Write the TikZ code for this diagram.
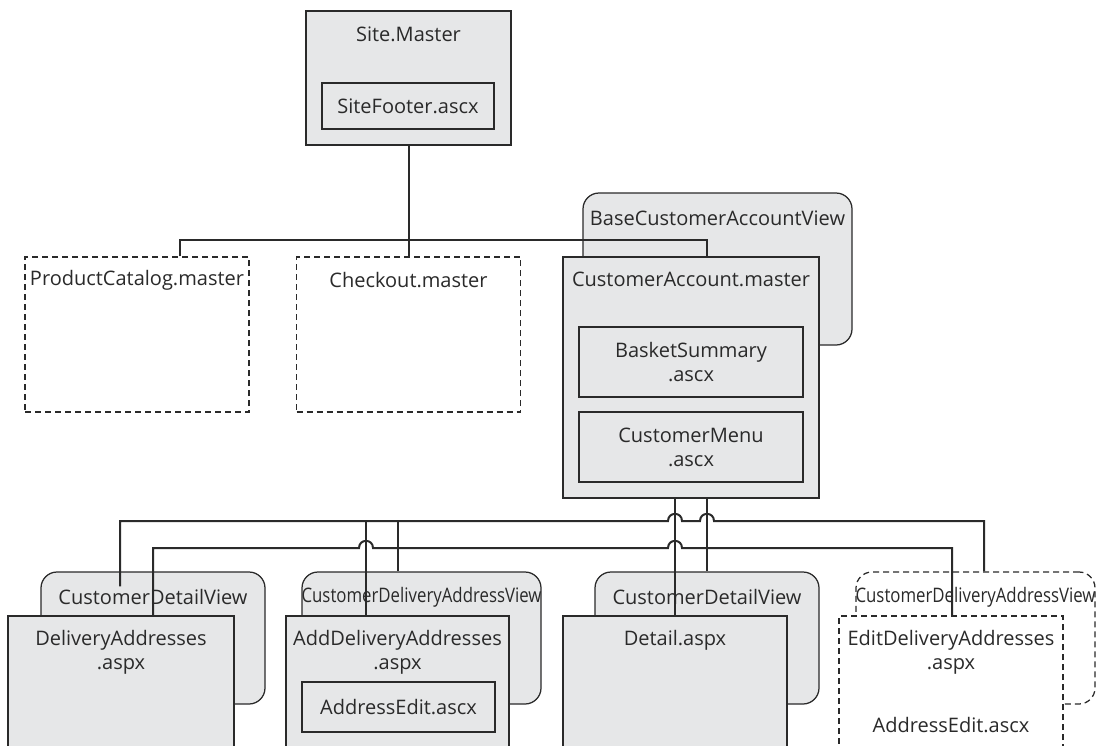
\documentclass[tikz,border=0pt]{standalone}
\usepackage{fontspec}
\setmainfont{Open Sans}
\newfontfamily\narrowfont[FakeStretch=0.84]{Open Sans}
\definecolor{boxfill}{HTML}{E6E7E8}
\definecolor{ink}{HTML}{2A2A2A}
\newcommand\hopx[2]{-- ({#1-7},#2) .. controls ({#1-7},{#2-9.5}) and ({#1+7},{#2-9.5}) .. ({#1+7},#2)}
\begin{document}
\begin{tikzpicture}[x=1pt,y=-1pt,
  box/.style={draw=ink, line width=1.25pt, fill=boxfill, rectangle, inner sep=0pt},
  rbox/.style={box, rounded corners=16pt},
  dbox/.style={draw=ink, line width=1.25pt, fill=white, rectangle, inner sep=0pt, dash pattern=on 6pt off 4pt},
  lbl/.style={text=ink, font=\fontsize{20}{24}\selectfont, align=center, inner sep=0pt},
  nlbl/.style={text=ink, font=\narrowfont\fontsize{20}{24}\selectfont, align=center, inner sep=0pt},
  conn/.style={draw=ink, line width=2pt}]
\fill[white] (0,0) rectangle (1101,745);
\useasboundingbox (0,0) rectangle (1101,745);

% top
\node[box, minimum width=205pt, minimum height=134pt] (SM) at (408.5,78) {};
\node[box, minimum width=172pt, minimum height=46pt] (SF) at (408,106) {};
\node[lbl] (lSM) at (408.5,34) {Site.Master};
\node[lbl] (lSF) at (408,106) {SiteFooter.ascx};

% middle row
\node[dbox, minimum width=224pt, minimum height=155pt] (PC) at (137,334.5) {};
\node[dbox, minimum width=224pt, minimum height=155pt] (CO) at (408.5,334.5) {};
\node[lbl] (lPC) at (137,280) {ProductCatalog.master};
\node[lbl] (lCO) at (408.5,280) {Checkout.master};

\node[rbox, minimum width=269pt, minimum height=152pt] (BASE) at (717.5,269) {};
\node[lbl] (lBASE) at (717.5,218) {BaseCustomerAccountView};
\node[box, minimum width=256pt, minimum height=241pt] (CA) at (691,377.5) {};
\node[lbl] (lCA) at (691,279) {CustomerAccount.master};
\node[box, minimum width=224pt, minimum height=70pt] (BS) at (691,362) {};
\node[lbl] (lBS) at (691,362) {BasketSummary\\.ascx};
\node[box, minimum width=224pt, minimum height=70pt] (CM) at (691,447) {};
\node[lbl] (lCM) at (691,447) {CustomerMenu\\.ascx};

% bottom row
\node[rbox, minimum width=224pt, minimum height=132pt] (CDV1) at (153,638) {};
\node[box, minimum width=226pt, minimum height=150pt] (DA) at (121,691) {};
\node[lbl] (lCDV1) at (153,597) {CustomerDetailView};
\node[lbl] (lDA) at (121,652) {DeliveryAddresses\\.aspx};

\node[rbox, minimum width=239pt, minimum height=132pt] (CDAV2) at (421.5,638) {};
\node[box, minimum width=223pt, minimum height=150pt] (ADA) at (397.5,691) {};
\node[box, minimum width=193pt, minimum height=50pt] (AE) at (398.5,707) {};
\node[nlbl] (lCDAV2) at (421.5,597) {CustomerDeliveryAddressView};
\node[lbl] (lADA) at (397.5,652) {AddDeliveryAddresses\\.aspx};
\node[lbl] (lAE) at (398.5,707) {AddressEdit.ascx};

\node[rbox, minimum width=224pt, minimum height=132pt] (CDV3) at (707,638) {};
\node[box, minimum width=224pt, minimum height=150pt] (DT) at (675,691) {};
\node[lbl] (lCDV3) at (707,597) {CustomerDetailView};
\node[lbl] (lDT) at (675,640) {Detail.aspx};

\node[dbox, rounded corners=16pt, minimum width=239pt, minimum height=132pt] (CDAV4) at (975.5,638) {};
\node[dbox, minimum width=224pt, minimum height=150pt] (EDA) at (951,691) {};
\node[nlbl] (lCDAV4) at (975.5,597) {CustomerDeliveryAddressView};
\node[lbl] (lEDA) at (951,652) {EditDeliveryAddresses\\.aspx};
\node[lbl] (lAE2) at (951,725) {AddressEdit.ascx};

% connectors: top
\draw[conn] (SM.south) -- (CO.north);
\draw[conn] ([xshift=43pt]PC.north) -- ++(0,-16) -| ([xshift=16pt]CA.north);

% connectors from CustomerAccount
\draw[conn] (CA.south -| DT.north) -- (DT.north);
\draw[conn] (CA.south -| CDV3.north) -- (CDV3.north);

% first bus
\draw[conn] ([xshift=-33pt,yshift=-15pt]CDV1.north) -- (120,521) \hopx{675}{521} \hopx{707}{521} -- (984,521) -- ([xshift=8.5pt]CDAV4.north);
\draw[conn] (366,521) -- ([xshift=-31.5pt]ADA.north);
\draw[conn] (398,521) -- ([xshift=-23.5pt]CDAV2.north);

% second bus
\draw[conn] ([xshift=32pt]DA.north) -- (153,548) \hopx{366}{548} \hopx{675}{548} -- (952,548) -- ([xshift=1pt]EDA.north);
\end{tikzpicture}
\end{document}
